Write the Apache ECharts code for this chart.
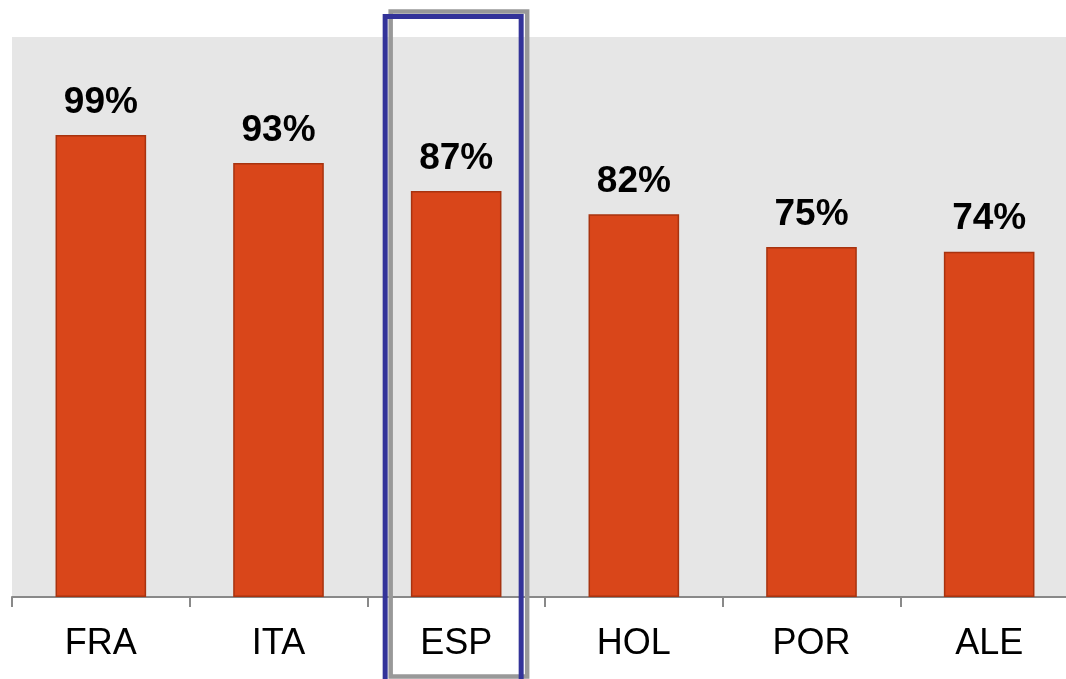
<!DOCTYPE html>
<html>
<head>
<meta charset="utf-8">
<script src="https://cdn.jsdelivr.net/npm/echarts@6/dist/echarts.min.js"></script>
<style>html,body{margin:0;padding:0;background:#fff;overflow:hidden;width:1066px;height:679px;}#c{width:1078px;height:679px;}</style>
</head>
<body>
<div id="c"></div>
<script>
const categories = ['FRA', 'ITA', 'ESP', 'HOL', 'POR', 'ALE'];
const values = [99, 93, 87, 82, 75, 74];
const highlighted = 'ESP';

const chart = echarts.init(document.getElementById('c'), null, {renderer: 'canvas'});
chart.setOption({
  animation: false,
  grid: {left: 12, top: 37, right: 0, bottom: 82, show: true, backgroundColor: '#E6E6E6', borderWidth: 0, containLabel: false},
  xAxis: {
    type: 'category', data: categories,
    axisLine: {lineStyle: {color: '#898989', width: 2}},
    axisTick: {show: true, length: 10, lineStyle: {color: '#898989', width: 2}},
    axisLabel: {color: '#000', fontSize: 36, fontFamily: 'Liberation Sans, Arial', margin: 29}
  },
  yAxis: {type: 'value', min: 0, max: 120, show: false, splitLine: {show: false}},
  series: [{
    type: 'bar', data: values, barWidth: '51%',
    itemStyle: {color: '#D9461A', borderColor: '#A8330F', borderWidth: 1.5},
    label: {show: true, position: 'top', distance: 14, formatter: '{c}%', color: '#000', fontSize: 37, fontWeight: 'bold', fontFamily: 'Liberation Sans, Arial'}
  }]
});

const cx = chart.convertToPixel({xAxisIndex: 0}, highlighted);
chart.setOption({
  graphic: [
    {type: 'rect', shape: {x: cx - 65.5, y: 11.5, width: 136.5, height: 665}, style: {fill: 'none', stroke: '#999999', lineWidth: 4.5}, z: 100},
    {type: 'rect', shape: {x: cx - 71, y: 16.5, width: 136, height: 670}, style: {fill: 'none', stroke: '#333399', lineWidth: 5}, z: 101}
  ]
});
</script>
</body>
</html>
